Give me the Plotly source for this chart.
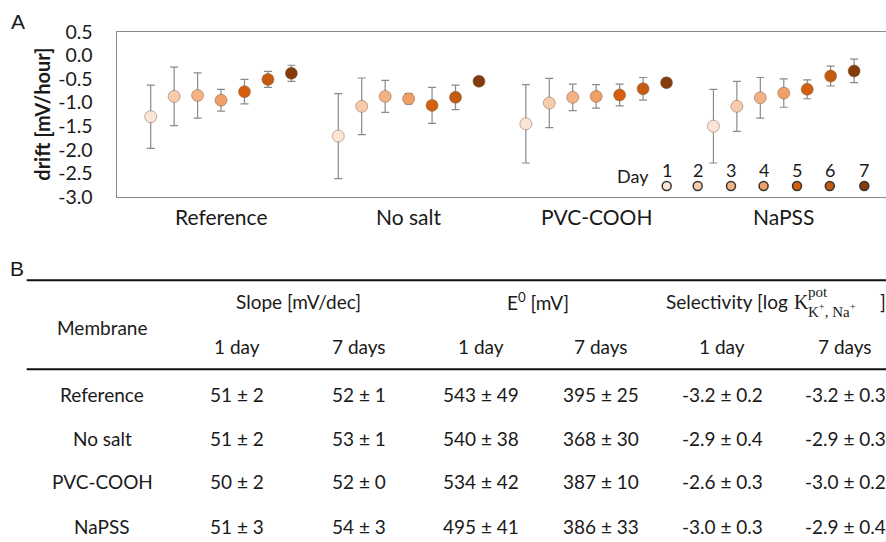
import plotly.graph_objects as go

# ---------------- data ----------------
groups = ["Reference", "No salt", "PVC-COOH", "NaPSS"]
days = [1, 2, 3, 4, 5, 6, 7]
day_colors = ["#fbe5d6", "#f8cbad", "#f4b183", "#f0a066", "#d4600f", "#c55a11", "#843c0c"]

ref_mean = [-1.30, -0.87, -0.85, -0.95, -0.77, -0.51, -0.38]
ref_err = [0.67, 0.62, 0.48, 0.23, 0.26, 0.17, 0.17]
nosalt_mean = [-1.71, -1.08, -0.87, -0.92, -1.06, -0.89, -0.55]
nosalt_err = [0.90, 0.60, 0.34, 0.11, 0.38, 0.26, 0.07]
pvc_mean = [-1.45, -1.01, -0.89, -0.87, -0.84, -0.71, -0.58]
pvc_err = [0.83, 0.52, 0.28, 0.25, 0.23, 0.24, 0.07]
napss_mean = [-1.50, -1.08, -0.90, -0.80, -0.72, -0.44, -0.33]
napss_err = [0.78, 0.53, 0.43, 0.30, 0.20, 0.21, 0.25]

drift_means = [ref_mean, nosalt_mean, pvc_mean, napss_mean]
drift_errs = [ref_err, nosalt_err, pvc_err, napss_err]

y_ticks = [0.5, 0.0, -0.5, -1.0, -1.5, -2.0, -2.5, -3.0]

# table
membranes = ["Reference", "No salt", "PVC-COOH", "NaPSS"]
slope_1d = [(51, 2), (51, 2), (50, 2), (51, 3)]
slope_7d = [(52, 1), (53, 1), (52, 0), (54, 3)]
e0_1d = [(543, 49), (540, 38), (534, 42), (495, 41)]
e0_7d = [(395, 25), (368, 30), (387, 10), (386, 33)]
sel_1d = [(-3.2, 0.2), (-2.9, 0.4), (-2.6, 0.3), (-3.0, 0.3)]
sel_7d = [(-3.2, 0.3), (-2.9, 0.3), (-3.0, 0.2), (-2.9, 0.4)]

# ---------------- layout helpers ----------------
W, H = 886, 542


def px(x):
    return x / W


def py(y):
    return 1 - y / H


FONT = "Lato"
TXT = "#1a1a1a"
slots_per_group = 8

fig = go.Figure()

for d_i, d in enumerate(days):
    xs = [g * slots_per_group + d_i for g in range(len(groups))]
    ys = [drift_means[g][d_i] for g in range(len(groups))]
    es = [drift_errs[g][d_i] for g in range(len(groups))]
    fig.add_trace(go.Scatter(
        x=xs, y=ys, mode="markers", name=str(d), showlegend=False,
        error_y=dict(type="data", array=es, visible=True, color="#8a8a8a",
                     thickness=1.2, width=4),
        marker=dict(size=12, color=day_colors[d_i],
                    line=dict(color="rgba(110,80,60,0.55)", width=0.8)),
        cliponaxis=False,
    ))

fig.update_layout(
    width=W, height=H,
    margin=dict(l=0, r=0, t=0, b=0, pad=0, autoexpand=False),
    paper_bgcolor="white", plot_bgcolor="white",
    font=dict(family=FONT, color=TXT),
    xaxis=dict(
        domain=[px(116.7), 1.0],
        range=[-1.45, 31.36],
        showticklabels=False, automargin=False,
        ticks="", showgrid=False, zeroline=False,
        showline=True, linecolor="#8a8a8a", linewidth=1.3, mirror=True,
    ),
    yaxis=dict(
        domain=[py(197.0), py(31.7)],
        range=[-3.0, 0.5], automargin=False,
        tickvals=y_ticks,
        ticktext=[("%.1f" % v) for v in y_ticks],
        tickfont=dict(size=19.5, family=FONT, color=TXT),
        ticks="", showgrid=False, zeroline=False,
        showline=True, linecolor="#8a8a8a", linewidth=1.3,
        ticklabelstandoff=19,
    ),
)

annotations = []
shapes = []


def padd(x, y, text, size, family=FONT, xanchor="center", yanchor="middle", angle=0,
         align="center"):
    annotations.append(dict(x=px(x), y=py(y), xref="paper", yref="paper", text=text,
                            showarrow=False, xanchor=xanchor, yanchor=yanchor,
                            textangle=angle, align=align,
                            font=dict(size=size, family=family, color=TXT)))


# category labels on the x axis
for g, name in enumerate(groups):
    annotations.append(dict(x=g * slots_per_group + 3, y=py(216.5), xref="x", yref="paper",
                            text=name, showarrow=False, xanchor="center", yanchor="middle",
                            font=dict(size=21, family=FONT, color=TXT)))

# axis title
padd(41.7, 114, "<b>drift [mV/hour]</b>", 20, angle=-90)

# panel labels
padd(18, 21, "A", 21, family="Liberation Sans")
padd(17, 268, "B", 21, family="Liberation Sans")

# custom legend
padd(633, 176, "Day", 18)
leg_x = [666.7, 697.7, 731.0, 763.6, 797.0, 829.8, 864.3]
for d_i, d in enumerate(days):
    padd(leg_x[d_i], 170, str(d), 18)
    shapes.append(dict(type="circle", xref="paper", yref="paper",
                       xsizemode="pixel", ysizemode="pixel",
                       xanchor=px(leg_x[d_i]), yanchor=py(186),
                       x0=-4.5, x1=4.5, y0=-4.5, y1=4.5,
                       fillcolor=day_colors[d_i], line=dict(color="#333333", width=1.5)))

# ---------------- table ----------------
TFS = 19
rule_y = [280.3, 369.3]
for ry in rule_y:
    shapes.append(dict(type="line", xref="paper", yref="paper",
                       x0=px(26.7), x1=1.0, y0=py(ry), y1=py(ry),
                       line=dict(color="#111111", width=2)))

col_x = [102, 237, 359, 481, 601, 722, 845]

padd(col_x[0], 327, "Membrane", TFS)
padd(298, 301.5, "Slope [mV/dec]", TFS)
padd(538, 301.5, "E<sup>0</sup> [mV]", TFS)
# selectivity header with stacked super/subscripts
padd(790, 301.5, "Selectivity [log", TFS, xanchor="right")
padd(792, 301.5, "K", 20, family="Liberation Serif", xanchor="left")
padd(806, 302, "pot<br>K<sup>+</sup>, Na<sup>+</sup>", 15, family="Liberation Serif",
     xanchor="left", align="left")
padd(878, 301.5, "]", TFS, xanchor="left")

for ci, lab in zip(col_x[1:], ["1 day", "7 days"] * 3):
    padd(ci, 346, lab, TFS)


def fmt(pair, dec):
    return f"{pair[0]:.{dec}f} \u00b1 {pair[1]:.{dec}f}"


row_y = [394, 438, 482, 526]
cols = [(slope_1d, 0), (slope_7d, 0), (e0_1d, 0), (e0_7d, 0), (sel_1d, 1), (sel_7d, 1)]
for r, name in enumerate(membranes):
    padd(col_x[0], row_y[r], name, TFS)
    for c, (arr, dec) in enumerate(cols):
        padd(col_x[c + 1], row_y[r], fmt(arr[r], dec), TFS)

fig.update_layout(annotations=annotations, shapes=shapes)

fig.write_html("out.html")
